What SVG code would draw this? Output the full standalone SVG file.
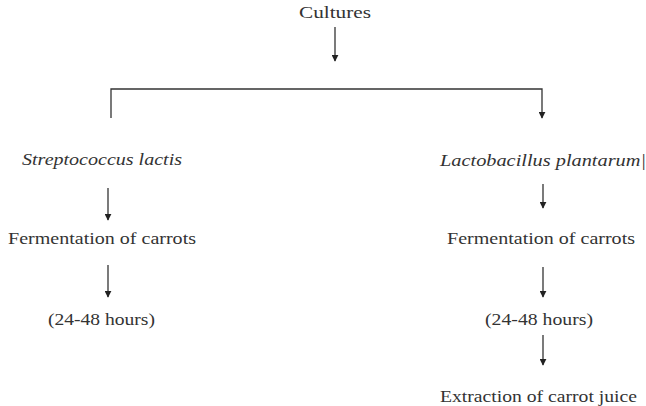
<svg xmlns="http://www.w3.org/2000/svg" width="646" height="406" viewBox="0 0 646 406">
<style>
.t{font-family:'Liberation Serif','DejaVu Serif',serif;font-size:16px;fill:#333;}
.it{font-style:italic;}
.c{stroke:#333;stroke-width:1.3;fill:none;}
</style>
<defs>
<marker id="ah" viewBox="0 0 10 10" refX="9" refY="5" markerWidth="7" markerHeight="7" orient="auto" markerUnits="userSpaceOnUse">
<path d="M0,0 L10,5 L0,10 z" fill="#222"/>
</marker>
</defs>
<rect width="646" height="406" fill="#fff"/>
<g id="connectors">
<line class="c" x1="335" y1="27" x2="335" y2="61" marker-end="url(#ah)"/>
<polyline class="c" points="111,118 111,89 542,89 542,118" marker-end="url(#ah)"/>
<line class="c" x1="108" y1="188" x2="108" y2="220" marker-end="url(#ah)"/>
<line class="c" x1="108" y1="265" x2="108" y2="297" marker-end="url(#ah)"/>
<line class="c" x1="543" y1="184" x2="543" y2="208" marker-end="url(#ah)"/>
<line class="c" x1="543" y1="267" x2="543" y2="297" marker-end="url(#ah)"/>
<line class="c" x1="543" y1="335" x2="543" y2="365" marker-end="url(#ah)"/>
</g>
<g id="cultures"><text class="t" font-family="Liberation Serif" x="299" y="18" textLength="72" lengthAdjust="spacingAndGlyphs">Cultures</text></g>
<g id="strep"><text class="t it" font-family="Liberation Serif" x="22" y="165" textLength="160" lengthAdjust="spacingAndGlyphs">Streptococcus lactis</text></g>
<g id="ferm1"><text class="t" font-family="Liberation Serif" x="8" y="244" textLength="188" lengthAdjust="spacingAndGlyphs">Fermentation of carrots</text></g>
<g id="hours1"><text class="t" font-family="Liberation Serif" x="48" y="325" textLength="107" lengthAdjust="spacingAndGlyphs">(24-48 hours)</text></g>
<g id="lacto"><text class="t it" font-family="Liberation Serif" x="440" y="166" textLength="206" lengthAdjust="spacingAndGlyphs">Lactobacillus plantarum|</text></g>
<g id="ferm2"><text class="t" font-family="Liberation Serif" x="447" y="244" textLength="188" lengthAdjust="spacingAndGlyphs">Fermentation of carrots</text></g>
<g id="hours2"><text class="t" font-family="Liberation Serif" x="485" y="325" textLength="108" lengthAdjust="spacingAndGlyphs">(24-48 hours)</text></g>
<g id="extract"><text class="t" font-family="Liberation Serif" x="440" y="402" textLength="197" lengthAdjust="spacingAndGlyphs">Extraction of carrot juice</text></g>
</svg>
